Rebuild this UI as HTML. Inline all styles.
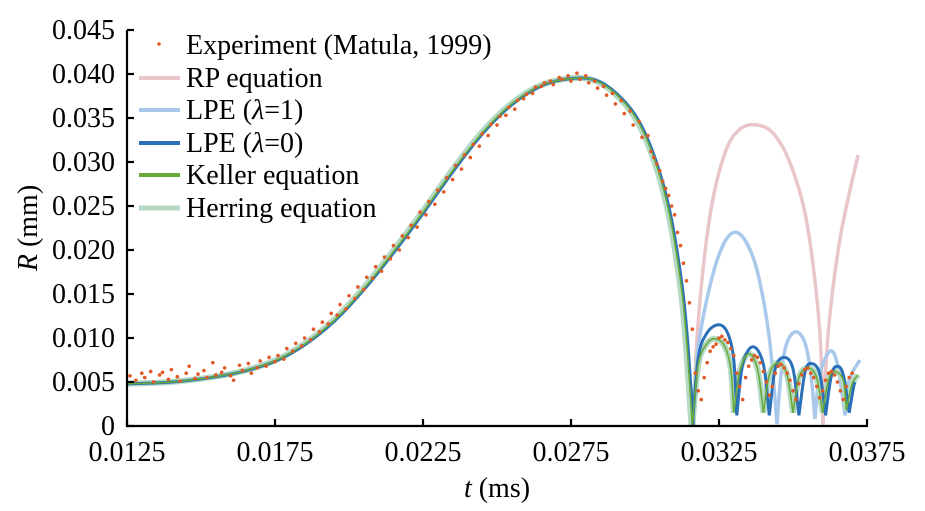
<!DOCTYPE html>
<html><head><meta charset="utf-8"><style>
body{margin:0;background:#fff;}
svg{display:block;}
svg text{font-family:"Liberation Serif","Times New Roman",Times,"DejaVu Serif",serif !important;}
</style></head><body>
<svg id="chart" width="925" height="511" xmlns="http://www.w3.org/2000/svg"></svg>
<script>
const xTicks=[0.0125,0.0175,0.0225,0.0275,0.0325,0.0375];
const xTickLabels=["0.0125","0.0175","0.0225","0.0275","0.0325","0.0375"];
const yTicks=[0,0.005,0.010,0.015,0.020,0.025,0.030,0.035,0.040,0.045];
const yTickLabels=["0","0.005","0.010","0.015","0.020","0.025","0.030","0.035","0.040","0.045"];
const mainT=[0.0125,0.0140,0.0155,0.0165,0.0175,0.0185,0.0195,0.0205,0.0215,0.0225,0.0235,0.0245,0.0255,0.0265,0.0275,0.0283,0.0290,0.0297,0.0303,0.0308,0.0312,0.0314,0.0316];
const mainR=[0.0048,0.0050,0.0056,0.0063,0.0074,0.0093,0.0120,0.0156,0.0198,0.0243,0.0290,0.0333,0.0366,0.0387,0.0395,0.0393,0.0378,0.0350,0.0305,0.0245,0.0165,0.0100,0.0000];
const rpArcs=[
 [[0.03162,0],[0.0318,0.012],[0.0322,0.024],[0.0327,0.0310],[0.0332,0.0337],[0.0338,0.0342],[0.0344,0.0330],[0.0350,0.0290],[0.0355,0.0225],[0.0359,0.0110],[0.03601,0]],
 [[0.03601,0],[0.0362,0.0110],[0.0366,0.0215],[0.0372,0.0308]]];
const lpe1Arcs=[
 [[0.0316,0],[0.0318,0.009],[0.0322,0.016],[0.0326,0.0203],[0.0330,0.0220],[0.0334,0.0210],[0.0338,0.0175],[0.0342,0.0100],[0.03446,0.0002]],
 [[0.03446,0.0002],[0.0346,0.0060],[0.0348,0.0095],[0.0351,0.0107],[0.0354,0.0095],[0.0356,0.0060],[0.03574,0.0008]],
 [[0.03574,0.0008],[0.0359,0.0058],[0.03625,0.0085],[0.0365,0.0070],[0.03676,0.0012]],
 [[0.03676,0.0012],[0.0369,0.0052],[0.03726,0.0075]]];
const lpe0Arcs=[
 [[0.0316,0],[0.0318,0.0078],[0.0321,0.0106],[0.0325,0.0115],[0.0328,0.0105],[0.0330,0.0075],[0.0331,0.0012]],
 [[0.0331,0.0012],[0.0333,0.0070],[0.03365,0.0090],[0.0340,0.0070],[0.0342,0.0012]],
 [[0.0342,0.0012],[0.0344,0.0065],[0.0347,0.0078],[0.0350,0.0065],[0.0352,0.0012]],
 [[0.0352,0.0012],[0.0354,0.0060],[0.0356,0.0071],[0.0359,0.0060],[0.0361,0.0012]],
 [[0.0361,0.0012],[0.0363,0.0058],[0.0365,0.0068],[0.0367,0.0058],[0.0369,0.0015]],
 [[0.0369,0.0015],[0.03705,0.0045],[0.0371,0.0050]]];
const kelArcs=[
 [[0.0316,0],[0.0318,0.0070],[0.0321,0.0094],[0.0324,0.0099],[0.0327,0.0090],[0.0329,0.0065],[0.0330,0.0015]],
 [[0.0330,0.0015],[0.0332,0.0062],[0.0335,0.0082],[0.0338,0.0065],[0.0340,0.0015]],
 [[0.0340,0.0015],[0.0342,0.0058],[0.0345,0.0072],[0.0348,0.0058],[0.0350,0.0015]],
 [[0.0350,0.0015],[0.0352,0.0055],[0.0355,0.0066],[0.0358,0.0055],[0.0360,0.0015]],
 [[0.0360,0.0015],[0.0362,0.0052],[0.0364,0.0062],[0.0367,0.0052],[0.0368,0.0018]],
 [[0.0368,0.0018],[0.0370,0.0048],[0.0372,0.0058]]];
const expT=[0.0126,0.0128,0.0130,0.0131,0.0133,0.0134,0.0136,0.0137,0.0139,0.0140,0.0142,0.0143,0.0145,0.0146,0.0148,0.0149,0.0151,0.0152,0.0154,0.0155,0.0157,0.0158,0.0160,0.0161,0.0163,0.0164,0.0166,0.0167,0.0169,0.0170,0.0172,0.0173,0.0175,0.0176,0.0178,0.0179,0.0181,0.0182,0.0184,0.0185,0.0187,0.0188,0.0190,0.0191,0.0193,0.0194,0.0196,0.0197,0.0199,0.0200,0.0202,0.0203,0.0205,0.0206,0.0208,0.0209,0.0211,0.0212,0.0214,0.0215,0.0217,0.0218,0.0220,0.0221,0.0223,0.0224,0.0226,0.0227,0.0229,0.0230,0.0232,0.0233,0.0235,0.0236,0.0238,0.0239,0.0241,0.0242,0.0244,0.0245,0.0247,0.0248,0.0250,0.0251,0.0253,0.0254,0.0256,0.0257,0.0259,0.0260,0.0262,0.0263,0.0265,0.0266,0.0268,0.0269,0.0271,0.0272,0.0274,0.0275,0.0277,0.0278,0.0280,0.0281,0.0283,0.0284,0.0286,0.0287,0.0289,0.0290,0.0292,0.0293,0.0295,0.0296,0.0298,0.0299,0.0301,0.0302,0.0303,0.0304,0.0305,0.0306,0.0307,0.0308,0.0309,0.0310,0.0311,0.0312,0.0313,0.0314,0.0315,0.0316,0.0317,0.0318,0.0319,0.0320,0.0321,0.0322,0.0323,0.0324,0.0325,0.0326,0.0327,0.0328,0.0329,0.0330,0.0331,0.0332,0.0333,0.0334,0.0335,0.0336,0.0337,0.0338,0.0339,0.0340,0.0341,0.0342,0.0343,0.0344,0.0345,0.0346,0.0347,0.0348,0.0349,0.0350,0.0351,0.0352,0.0353,0.0354,0.0355,0.0356,0.0357,0.0358,0.0359,0.0360,0.0361,0.0362,0.0363,0.0364,0.0365,0.0366,0.0367,0.0368,0.0369,0.0370,0.0371,0.0372];
const expR=[0.0057,0.0052,0.0060,0.0055,0.0062,0.0050,0.0058,0.0061,0.0053,0.0064,0.0056,0.0051,0.0060,0.0068,0.0054,0.0059,0.0063,0.0055,0.0072,0.0058,0.0061,0.0066,0.0057,0.0052,0.0069,0.0063,0.0071,0.0060,0.0066,0.0074,0.0068,0.0078,0.0073,0.0080,0.0076,0.0088,0.0085,0.0094,0.0091,0.0100,0.0098,0.0110,0.0107,0.0118,0.0116,0.0128,0.0126,0.0138,0.0133,0.0148,0.0145,0.0158,0.0155,0.0169,0.0168,0.0181,0.0176,0.0192,0.0190,0.0205,0.0200,0.0216,0.0214,0.0228,0.0226,0.0243,0.0240,0.0255,0.0252,0.0268,0.0266,0.0282,0.0280,0.0296,0.0292,0.0308,0.0305,0.0320,0.0318,0.0332,0.0330,0.0343,0.0342,0.0352,0.0353,0.0362,0.0360,0.0370,0.0372,0.0377,0.0378,0.0385,0.0386,0.0390,0.0392,0.0388,0.0396,0.0394,0.0398,0.0392,0.0401,0.0394,0.0398,0.0390,0.0392,0.0384,0.0386,0.0376,0.0378,0.0366,0.0370,0.0355,0.0358,0.0342,0.0346,0.0328,0.0330,0.0312,0.0305,0.0298,0.0290,0.0278,0.0270,0.0262,0.0250,0.0240,0.0220,0.0205,0.0185,0.0165,0.0140,0.0110,0.0060,0.0040,0.0030,0.0055,0.0072,0.0085,0.0090,0.0093,0.0100,0.0102,0.0098,0.0095,0.0088,0.0080,0.0060,0.0045,0.0030,0.0055,0.0068,0.0075,0.0080,0.0078,0.0072,0.0062,0.0050,0.0035,0.0045,0.0060,0.0068,0.0070,0.0066,0.0060,0.0052,0.0040,0.0030,0.0048,0.0058,0.0064,0.0066,0.0060,0.0055,0.0045,0.0032,0.0040,0.0052,0.0060,0.0062,0.0058,0.0050,0.0040,0.0030,0.0045,0.0055,0.0060];

const svg=document.getElementById('chart');
const NS='http://www.w3.org/2000/svg';
const X0=127,X1=867,Y0=426,Y1=30;
const xs=t=>X0+(t-0.0125)/(0.0375-0.0125)*(X1-X0);
const ys=r=>Y0-r/0.045*(Y0-Y1);
function mk(tag,attrs,parent){const e=document.createElementNS(NS,tag);for(const k in attrs)e.setAttribute(k,attrs[k]);(parent||svg).appendChild(e);return e;}
function smooth(pts){let d='M'+pts[0][0].toFixed(1)+','+pts[0][1].toFixed(1);
 for(let i=0;i<pts.length-1;i++){const p0=pts[Math.max(0,i-1)],p1=pts[i],p2=pts[i+1],p3=pts[Math.min(pts.length-1,i+2)];
  const c1=[p1[0]+(p2[0]-p0[0])/6,p1[1]+(p2[1]-p0[1])/6],c2=[p2[0]-(p3[0]-p1[0])/6,p2[1]-(p3[1]-p1[1])/6];
  d+=' C'+c1.join(',')+' '+c2.join(',')+' '+p2[0].toFixed(1)+','+p2[1].toFixed(1);}
 return d;}
const mainPts=mainT.map((t,i)=>[xs(t),ys(mainR[i])]);
const arcPts=a=>a.map(p=>[xs(p[0]),ys(p[1])]);
function drawSeries(name,arcs,color,w,shift){
 const g=mk('g',{});
 
 
 const m=mainPts.map(p=>[p[0]+shift,p[1]]);
 mk('path',{d:smooth(m),fill:'none',stroke:color,'stroke-width':w,'stroke-linejoin':'round'},g);
 arcs.forEach(a=>mk('path',{d:smooth(arcPts(a)),fill:'none',stroke:color,'stroke-width':w},g));
}
drawSeries('rp-equation-line',rpArcs,'#e8c6ca',3.5,0);
drawSeries('lpe-lambda1-line',lpe1Arcs,'#a9c9ec',3.5,0);
drawSeries('herring-equation-line',kelArcs,'#b4dac4',6,-1);
drawSeries('lpe-lambda0-line',lpe0Arcs,'#2a70b8',3,1);
drawSeries('keller-equation-line',kelArcs,'#6aaa3a',1.6,0);
const dots=mk('g',{});


const nExp=Math.min(expT.length,expR.length);
for(let i=0;i<nExp;i++){mk('circle',{cx:xs(expT[i]),cy:ys(expR[i]),r:1.8,fill:'#e05a28'},dots);}
const ax=mk('g',{stroke:'#000','stroke-width':2.2,fill:'none'});


mk('path',{d:`M${X0},${Y1} V${Y0} H${X1+1}`},ax);
xTicks.forEach(t=>mk('line',{x1:xs(t),x2:xs(t),y1:Y0,y2:Y0-7},ax));
yTicks.forEach(r=>mk('line',{x1:X0,x2:X0+7,y1:ys(r),y2:ys(r)},ax));
xTicks.forEach((t,i)=>{const e=mk('text',{x:xs(t),y:Y0+35,'text-anchor':'middle','font-size':28});e.textContent=xTickLabels[i];
 
 });
yTicks.forEach((r,i)=>{const e=mk('text',{x:X0-12,y:ys(r)+9,'text-anchor':'end','font-size':28});e.textContent=yTickLabels[i];
 
 });
const xt=mk('text',{x:497,y:497,'text-anchor':'middle','font-size':28});
xt.innerHTML='<tspan font-style="italic">t</tspan> (ms)';


const yt=mk('text',{x:0,y:0,'text-anchor':'middle','font-size':28,transform:'translate(37,228) rotate(-90)'});
yt.innerHTML='<tspan font-style="italic">R</tspan> (mm)';


const legItems=[['Experiment (Matula, 1999)','#e05a28',0],['RP equation','#e8c6ca',4],['LPE (<tspan font-style="italic">λ</tspan>=1)','#a9c9ec',4],['LPE (<tspan font-style="italic">λ</tspan>=0)','#2a70b8',4],['Keller equation','#6aaa3a',4],['Herring equation','#b4dac4',5]];
const legY=[45,78,110,143,175,208];
const lg=mk('g',{});


legItems.forEach((it,i)=>{
 const g=mk('g',{},lg);
 
 
 if(it[2]===0) mk('circle',{cx:159,cy:legY[i]-1,r:1.8,fill:it[1]},g);
 else mk('line',{x1:139,x2:180,y1:legY[i],y2:legY[i],stroke:it[1],'stroke-width':it[2]},g);
 const t=mk('text',{x:186,y:legY[i]+9,'font-size':28},g);t.innerHTML=it[0];
});
</script>
</body></html>
